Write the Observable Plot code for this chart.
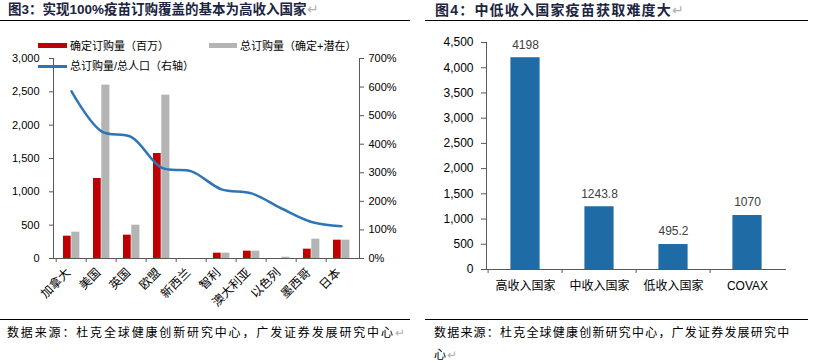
<!DOCTYPE html>
<html><head><meta charset="utf-8">
<script src="https://cdn.jsdelivr.net/npm/d3@7"></script>
<script src="https://cdn.jsdelivr.net/npm/@observablehq/plot@0.6"></script>
<style>
body{margin:0;background:#fff;}
#root{position:relative;width:816px;height:362px;overflow:hidden;font-family:"Liberation Sans","Noto Sans CJK SC",sans-serif;background:#fff;}
#root svg{position:absolute;}
.abs{position:absolute;white-space:nowrap;}
.title{font-weight:bold;font-size:14px;color:#1b2440;letter-spacing:1.2px;line-height:18px;}
.t3{font-size:13.5px;letter-spacing:0;}
.rule{position:absolute;height:0;border-top:1.5px solid #000;}
.src{font-size:12px;color:#000;letter-spacing:1.85px;line-height:16px;}
.src2{letter-spacing:1.2px;}
.ret{color:#b0b0b0;font-weight:normal;letter-spacing:0;}
.leg{font-size:11px;line-height:14px;color:#000;}
</style></head><body><div id="root"></div>
<script>
// ---- Figure 3 data ----
const countries = ["加拿大","美国","英国","欧盟","新西兰","智利","澳大利亚","以色列","墨西哥","日本"];
const confirmed = [335, 1200, 350, 1575, 0, 80, 110, 0, 140, 275];
const totalOrders = [395, 2600, 500, 2450, 0, 80, 110, 20, 290, 275];
const ratioPct = [585, 445, 425, 318, 305, 242, 228, 175, 128, 113];
const leftTicks = [0, 500, 1000, 1500, 2000, 2500, 3000];
const rightTicks = [0, 100, 200, 300, 400, 500, 600, 700];

// ---- Figure 4 data ----
const groups = ["高收入国家","中收入国家","低收入国家","COVAX"];
const doses = [4198, 1243.8, 495.2, 1070];
const doseTicks = [0, 500, 1000, 1500, 2000, 2500, 3000, 3500, 4000, 4500];

const root = document.getElementById("root");
const FONT = "'Liberation Sans','Noto Sans CJK SC',sans-serif";
const AX = "#595959";

const rows3 = countries.map((c, i) => ({c, a: confirmed[i], t: totalOrders[i], r: ratioPct[i]}));
const rows4 = groups.map((g, i) => ({g, v: doses[i]}));

function place(el, left, top) { el.style.left = left + "px"; el.style.top = top + "px"; root.appendChild(el); }

// Left chart: bars + left axis
const M3 = {width: 410, height: 310, marginLeft: 53, marginRight: 51, marginTop: 58, marginBottom: 52};
const lc = Plot.plot({
  ...M3,
  style: {background: "transparent", fontFamily: FONT, fontSize: "11px", color: "#000"},
  x: {domain: countries, padding: 0, label: null},
  y: {domain: [0, 3000], label: null},
  marks: [
    Plot.barY(rows3, {x: "c", y: "a", fill: "#C00000", insetLeft: 7, insetRight: 15.3}),
    Plot.barY(rows3, {x: "c", y: "t", fill: "#B4B4B4", insetLeft: 15.3, insetRight: 6.6}),
    Plot.axisY(leftTicks, {tickFormat: d3.format(","), tickSize: 4, tickPadding: 10, stroke: AX, fill: "#000", fontSize: 11}),
    Plot.axisX({tickSize: 0, tickRotate: -45, tickPadding: 12, dx: -3, fontSize: 12, fill: "#000"}),
    Plot.axisX({text: null, tickSize: 4, dx: -15.3, stroke: AX}),
    Plot.frame({anchor: "left", stroke: AX}),
    Plot.frame({anchor: "bottom", stroke: AX})
  ]
});
place(lc, 0, 0);

// Left chart overlay: line + right axis (point scale with padding 0.5 = band centres)
const lo = Plot.plot({
  ...M3,
  style: {background: "transparent", fontFamily: FONT, fontSize: "11px", color: "#000"},
  x: {type: "point", domain: countries, padding: 0.5, axis: null},
  y: {domain: [0, 700], label: null},
  marks: [
    Plot.axisY(rightTicks, {anchor: "right", tickFormat: d => d + "%", tickSize: 4, tickPadding: 5, stroke: AX, fill: "#000", fontSize: 11}),
    Plot.frame({anchor: "right", stroke: AX}),
    Plot.lineY(rows3, {x: "c", y: "r", stroke: "#2E75B6", strokeWidth: 2.5, curve: "catmull-rom"})
  ]
});
place(lo, 0, 0);

// Right chart
const rc = Plot.plot({
  width: 406, height: 300, marginLeft: 76, marginRight: 31, marginTop: 42, marginBottom: 31,
  style: {background: "transparent", fontFamily: FONT, fontSize: "12px", color: "#000"},
  x: {domain: groups, padding: 0, label: null},
  y: {domain: [0, 4500], label: null},
  marks: [
    Plot.barY(rows4, {x: "g", y: "v", fill: "#1F6BA5", insetLeft: 22.4, insetRight: 22.4}),
    Plot.text(rows4, {x: "g", y: "v", text: d => String(d.v), dy: -13, fill: "#404040", fontSize: 12}),
    Plot.axisY(doseTicks, {tickFormat: d3.format(","), tickSize: 5, tickPadding: 8, stroke: AX, fill: "#000", fontSize: 12}),
    Plot.axisX({tickSize: 0, tickPadding: 12, fontSize: 12, fill: "#000"}),
    Plot.axisX({text: null, tickSize: 4, dx: -37.4, stroke: AX}),
    Plot.frame({anchor: "left", stroke: AX}),
    Plot.frame({anchor: "bottom", stroke: AX})
  ]
});
place(rc, 410, 0);

// Titles and rules
function div(cls, html, left, top, extra) {
  const d = document.createElement("div");
  d.className = "abs " + cls; d.innerHTML = html;
  if (extra) Object.assign(d.style, extra);
  place(d, left, top); return d;
}
div("title t3", '图3：实现100%疫苗订购覆盖的基本为高收入国家<span class="ret">↵</span>', 8, 1);
div("title", '图4：中低收入国家疫苗获取难度大<span class="ret">↵</span>', 435, 1);
function rule(left, top, width) { const r = document.createElement("div"); r.className = "rule"; r.style.width = width + "px"; place(r, left, top); }
rule(0, 20, 410); rule(425, 20, 383);
rule(0, 319, 410); rule(425, 319, 383);

// Legend (left chart)
function sw(left, top, w, h, color) { const s = document.createElement("div"); s.className = "abs"; Object.assign(s.style, {width: w + "px", height: h + "px", background: color}); place(s, left, top); }
sw(38, 43, 29, 5, "#C00000"); div("leg", "确定订购量（百万）", 70, 39);
sw(209, 43, 28, 5, "#B4B4B4"); div("leg", "总订购量（确定+潜在）", 240, 39);
sw(38, 65, 29, 2.5, "#2E75B6"); div("leg", "总订购量/总人口（右轴）", 70, 59);

// Sources
const SRC = "数据来源：杜克全球健康创新研究中心，广发证券发展研究中心";
div("src", SRC + '<span class="ret">↵</span>', 7, 325);
div("src src2", SRC.slice(0, -1), 434, 325);
div("src src2", SRC.slice(-1) + '<span class="ret">↵</span>', 434, 347);
</script></body></html>
